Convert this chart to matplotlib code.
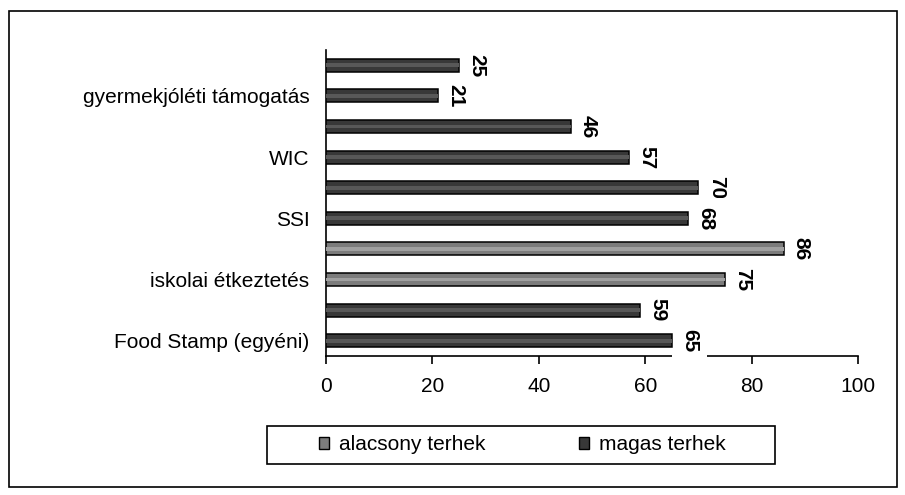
import matplotlib
matplotlib.use("Agg")
import matplotlib.pyplot as plt
from matplotlib.patches import Patch, Rectangle

plt.rcParams['font.family'] = ['Liberation Sans', 'DejaVu Sans']

# categories top to bottom (Excel skipped every other label)
categories = ['', 'gyermekjóléti támogatás', '', 'WIC', '', 'SSI',
              '', 'iskolai étkeztetés', '', 'Food Stamp (egyéni)']
values = [25, 21, 46, 57, 70, 68, 86, 75, 59, 65]
groups = ['magas', 'magas', 'magas', 'magas', 'magas', 'magas',
          'alacsony', 'alacsony', 'magas', 'magas']
legend_names = {'alacsony': 'alacsony terhek', 'magas': 'magas terhek'}
xticks = [0, 20, 40, 60, 80, 100]

body = {'alacsony': '#7c7c7c', 'magas': '#383838'}
stripe = {'alacsony': '#a0a0a0', 'magas': '#585858'}

fig = plt.figure(figsize=(9.05, 4.95), dpi=100)
ax = fig.add_axes([326 / 905, 1 - 356 / 495, 532 / 905, 306 / 495])

ypos = list(range(len(values)))
ax.barh(ypos, values, height=0.43, color=[body[g] for g in groups],
        edgecolor='black', linewidth=1.1, zorder=4)
ax.barh(ypos, values, height=0.12, color=[stripe[g] for g in groups],
        linewidth=0, zorder=4.5)

for y, v in zip(ypos, values):
    ax.annotate(str(v), (v, y), xytext=(6, 0), textcoords='offset points',
                rotation=270, ha='left', va='center', fontsize=15,
                fontweight='bold', zorder=3.5, annotation_clip=False,
                bbox=dict(boxstyle='square,pad=0.4', fc='white', ec='none'))

ax.set_xlim(0, 100)
ax.set_ylim(len(values) - 0.5, -0.5)
ax.set_xticks(xticks)
ax.set_yticks(ypos)
ax.set_yticklabels(categories)
ax.tick_params(axis='x', direction='out', length=6, width=1.2, pad=9,
               labelsize=15)
ax.tick_params(axis='y', length=0, pad=12, labelsize=15)
for s in ['top', 'right']:
    ax.spines[s].set_visible(False)
for s in ['left', 'bottom']:
    ax.spines[s].set_linewidth(1.2)
    ax.spines[s].set_zorder(2.5)

handles = [Patch(facecolor=body[g], edgecolor='black', label=legend_names[g])
           for g in ['alacsony', 'magas']]
fig.legend(handles=handles, loc='center', ncol=2,
           bbox_to_anchor=(522 / 905, 1 - 445 / 495), fontsize=15,
           frameon=False, handlelength=0.5, handleheight=0.5,
           handletextpad=0.45, columnspacing=4.5)

# legend frame
fig.patches.append(Rectangle((267 / 905, 1 - 464 / 495), 508 / 905, 38 / 495,
                             transform=fig.transFigure, fill=False,
                             edgecolor='black', linewidth=1.2))
# outer chart border
fig.patches.append(Rectangle((9 / 905, 1 - 487 / 495), 888 / 905, 476 / 495,
                             transform=fig.transFigure, fill=False,
                             edgecolor='black', linewidth=1.2))

fig.savefig('out.png', dpi=100)
